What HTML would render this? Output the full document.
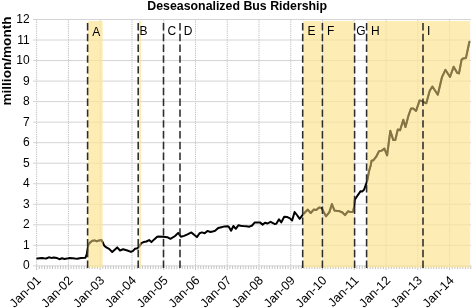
<!DOCTYPE html><html><head><meta charset="utf-8"><style>html,body{margin:0;padding:0;background:#fff;}svg{display:block;will-change:transform;}text{font-family:"Liberation Sans",sans-serif;}</style></head><body>
<svg width="472" height="308" viewBox="0 0 472 308">
<rect x="0" y="0" width="472" height="308" fill="#fff"/>
<line x1="36.65" y1="19.5" x2="36.65" y2="265.86" stroke="#bdbdbd" stroke-width="1" stroke-dasharray="1.2 1"/>
<line x1="68.41" y1="19.5" x2="68.41" y2="265.86" stroke="#bdbdbd" stroke-width="1" stroke-dasharray="1.2 1"/>
<line x1="100.18" y1="19.5" x2="100.18" y2="265.86" stroke="#bdbdbd" stroke-width="1" stroke-dasharray="1.2 1"/>
<line x1="131.94" y1="19.5" x2="131.94" y2="265.86" stroke="#bdbdbd" stroke-width="1" stroke-dasharray="1.2 1"/>
<line x1="163.71" y1="19.5" x2="163.71" y2="265.86" stroke="#bdbdbd" stroke-width="1" stroke-dasharray="1.2 1"/>
<line x1="195.47" y1="19.5" x2="195.47" y2="265.86" stroke="#bdbdbd" stroke-width="1" stroke-dasharray="1.2 1"/>
<line x1="227.24" y1="19.5" x2="227.24" y2="265.86" stroke="#bdbdbd" stroke-width="1" stroke-dasharray="1.2 1"/>
<line x1="259.0" y1="19.5" x2="259.0" y2="265.86" stroke="#bdbdbd" stroke-width="1" stroke-dasharray="1.2 1"/>
<line x1="290.77" y1="19.5" x2="290.77" y2="265.86" stroke="#bdbdbd" stroke-width="1" stroke-dasharray="1.2 1"/>
<line x1="322.53" y1="19.5" x2="322.53" y2="265.86" stroke="#bdbdbd" stroke-width="1" stroke-dasharray="1.2 1"/>
<line x1="354.3" y1="19.5" x2="354.3" y2="265.86" stroke="#bdbdbd" stroke-width="1" stroke-dasharray="1.2 1"/>
<line x1="386.06" y1="19.5" x2="386.06" y2="265.86" stroke="#bdbdbd" stroke-width="1" stroke-dasharray="1.2 1"/>
<line x1="417.83" y1="19.5" x2="417.83" y2="265.86" stroke="#bdbdbd" stroke-width="1" stroke-dasharray="1.2 1"/>
<line x1="449.59" y1="19.5" x2="449.59" y2="265.86" stroke="#bdbdbd" stroke-width="1" stroke-dasharray="1.2 1"/>
<line x1="33" y1="265.86" x2="471" y2="265.86" stroke="#d4d4d4" stroke-width="1"/>
<line x1="33" y1="245.33" x2="471" y2="245.33" stroke="#d4d4d4" stroke-width="1"/>
<line x1="33" y1="224.80" x2="471" y2="224.80" stroke="#d4d4d4" stroke-width="1"/>
<line x1="33" y1="204.27" x2="471" y2="204.27" stroke="#d4d4d4" stroke-width="1"/>
<line x1="33" y1="183.74" x2="471" y2="183.74" stroke="#d4d4d4" stroke-width="1"/>
<line x1="33" y1="163.21" x2="471" y2="163.21" stroke="#d4d4d4" stroke-width="1"/>
<line x1="33" y1="142.68" x2="471" y2="142.68" stroke="#d4d4d4" stroke-width="1"/>
<line x1="33" y1="122.15" x2="471" y2="122.15" stroke="#d4d4d4" stroke-width="1"/>
<line x1="33" y1="101.62" x2="471" y2="101.62" stroke="#d4d4d4" stroke-width="1"/>
<line x1="33" y1="81.09" x2="471" y2="81.09" stroke="#d4d4d4" stroke-width="1"/>
<line x1="33" y1="60.56" x2="471" y2="60.56" stroke="#d4d4d4" stroke-width="1"/>
<line x1="33" y1="40.03" x2="471" y2="40.03" stroke="#d4d4d4" stroke-width="1"/>
<line x1="33" y1="19.50" x2="471" y2="19.50" stroke="#d4d4d4" stroke-width="1"/>
<line x1="36.65" y1="265.86" x2="36.65" y2="270.06" stroke="#c4c4c4" stroke-width="1"/>
<line x1="39.30" y1="265.86" x2="39.30" y2="269.06" stroke="#c4c4c4" stroke-width="1"/>
<line x1="41.94" y1="265.86" x2="41.94" y2="269.06" stroke="#c4c4c4" stroke-width="1"/>
<line x1="44.59" y1="265.86" x2="44.59" y2="269.06" stroke="#c4c4c4" stroke-width="1"/>
<line x1="47.24" y1="265.86" x2="47.24" y2="269.06" stroke="#c4c4c4" stroke-width="1"/>
<line x1="49.89" y1="265.86" x2="49.89" y2="269.06" stroke="#c4c4c4" stroke-width="1"/>
<line x1="52.53" y1="265.86" x2="52.53" y2="269.06" stroke="#c4c4c4" stroke-width="1"/>
<line x1="55.18" y1="265.86" x2="55.18" y2="269.06" stroke="#c4c4c4" stroke-width="1"/>
<line x1="57.83" y1="265.86" x2="57.83" y2="269.06" stroke="#c4c4c4" stroke-width="1"/>
<line x1="60.47" y1="265.86" x2="60.47" y2="269.06" stroke="#c4c4c4" stroke-width="1"/>
<line x1="63.12" y1="265.86" x2="63.12" y2="269.06" stroke="#c4c4c4" stroke-width="1"/>
<line x1="65.77" y1="265.86" x2="65.77" y2="269.06" stroke="#c4c4c4" stroke-width="1"/>
<line x1="68.41" y1="265.86" x2="68.41" y2="270.06" stroke="#c4c4c4" stroke-width="1"/>
<line x1="71.06" y1="265.86" x2="71.06" y2="269.06" stroke="#c4c4c4" stroke-width="1"/>
<line x1="73.71" y1="265.86" x2="73.71" y2="269.06" stroke="#c4c4c4" stroke-width="1"/>
<line x1="76.36" y1="265.86" x2="76.36" y2="269.06" stroke="#c4c4c4" stroke-width="1"/>
<line x1="79.00" y1="265.86" x2="79.00" y2="269.06" stroke="#c4c4c4" stroke-width="1"/>
<line x1="81.65" y1="265.86" x2="81.65" y2="269.06" stroke="#c4c4c4" stroke-width="1"/>
<line x1="84.30" y1="265.86" x2="84.30" y2="269.06" stroke="#c4c4c4" stroke-width="1"/>
<line x1="86.94" y1="265.86" x2="86.94" y2="269.06" stroke="#c4c4c4" stroke-width="1"/>
<line x1="89.59" y1="265.86" x2="89.59" y2="269.06" stroke="#c4c4c4" stroke-width="1"/>
<line x1="92.24" y1="265.86" x2="92.24" y2="269.06" stroke="#c4c4c4" stroke-width="1"/>
<line x1="94.89" y1="265.86" x2="94.89" y2="269.06" stroke="#c4c4c4" stroke-width="1"/>
<line x1="97.53" y1="265.86" x2="97.53" y2="269.06" stroke="#c4c4c4" stroke-width="1"/>
<line x1="100.18" y1="265.86" x2="100.18" y2="270.06" stroke="#c4c4c4" stroke-width="1"/>
<line x1="102.83" y1="265.86" x2="102.83" y2="269.06" stroke="#c4c4c4" stroke-width="1"/>
<line x1="105.47" y1="265.86" x2="105.47" y2="269.06" stroke="#c4c4c4" stroke-width="1"/>
<line x1="108.12" y1="265.86" x2="108.12" y2="269.06" stroke="#c4c4c4" stroke-width="1"/>
<line x1="110.77" y1="265.86" x2="110.77" y2="269.06" stroke="#c4c4c4" stroke-width="1"/>
<line x1="113.42" y1="265.86" x2="113.42" y2="269.06" stroke="#c4c4c4" stroke-width="1"/>
<line x1="116.06" y1="265.86" x2="116.06" y2="269.06" stroke="#c4c4c4" stroke-width="1"/>
<line x1="118.71" y1="265.86" x2="118.71" y2="269.06" stroke="#c4c4c4" stroke-width="1"/>
<line x1="121.36" y1="265.86" x2="121.36" y2="269.06" stroke="#c4c4c4" stroke-width="1"/>
<line x1="124.00" y1="265.86" x2="124.00" y2="269.06" stroke="#c4c4c4" stroke-width="1"/>
<line x1="126.65" y1="265.86" x2="126.65" y2="269.06" stroke="#c4c4c4" stroke-width="1"/>
<line x1="129.30" y1="265.86" x2="129.30" y2="269.06" stroke="#c4c4c4" stroke-width="1"/>
<line x1="131.94" y1="265.86" x2="131.94" y2="270.06" stroke="#c4c4c4" stroke-width="1"/>
<line x1="134.59" y1="265.86" x2="134.59" y2="269.06" stroke="#c4c4c4" stroke-width="1"/>
<line x1="137.24" y1="265.86" x2="137.24" y2="269.06" stroke="#c4c4c4" stroke-width="1"/>
<line x1="139.89" y1="265.86" x2="139.89" y2="269.06" stroke="#c4c4c4" stroke-width="1"/>
<line x1="142.53" y1="265.86" x2="142.53" y2="269.06" stroke="#c4c4c4" stroke-width="1"/>
<line x1="145.18" y1="265.86" x2="145.18" y2="269.06" stroke="#c4c4c4" stroke-width="1"/>
<line x1="147.83" y1="265.86" x2="147.83" y2="269.06" stroke="#c4c4c4" stroke-width="1"/>
<line x1="150.47" y1="265.86" x2="150.47" y2="269.06" stroke="#c4c4c4" stroke-width="1"/>
<line x1="153.12" y1="265.86" x2="153.12" y2="269.06" stroke="#c4c4c4" stroke-width="1"/>
<line x1="155.77" y1="265.86" x2="155.77" y2="269.06" stroke="#c4c4c4" stroke-width="1"/>
<line x1="158.42" y1="265.86" x2="158.42" y2="269.06" stroke="#c4c4c4" stroke-width="1"/>
<line x1="161.06" y1="265.86" x2="161.06" y2="269.06" stroke="#c4c4c4" stroke-width="1"/>
<line x1="163.71" y1="265.86" x2="163.71" y2="270.06" stroke="#c4c4c4" stroke-width="1"/>
<line x1="166.36" y1="265.86" x2="166.36" y2="269.06" stroke="#c4c4c4" stroke-width="1"/>
<line x1="169.00" y1="265.86" x2="169.00" y2="269.06" stroke="#c4c4c4" stroke-width="1"/>
<line x1="171.65" y1="265.86" x2="171.65" y2="269.06" stroke="#c4c4c4" stroke-width="1"/>
<line x1="174.30" y1="265.86" x2="174.30" y2="269.06" stroke="#c4c4c4" stroke-width="1"/>
<line x1="176.95" y1="265.86" x2="176.95" y2="269.06" stroke="#c4c4c4" stroke-width="1"/>
<line x1="179.59" y1="265.86" x2="179.59" y2="269.06" stroke="#c4c4c4" stroke-width="1"/>
<line x1="182.24" y1="265.86" x2="182.24" y2="269.06" stroke="#c4c4c4" stroke-width="1"/>
<line x1="184.89" y1="265.86" x2="184.89" y2="269.06" stroke="#c4c4c4" stroke-width="1"/>
<line x1="187.53" y1="265.86" x2="187.53" y2="269.06" stroke="#c4c4c4" stroke-width="1"/>
<line x1="190.18" y1="265.86" x2="190.18" y2="269.06" stroke="#c4c4c4" stroke-width="1"/>
<line x1="192.83" y1="265.86" x2="192.83" y2="269.06" stroke="#c4c4c4" stroke-width="1"/>
<line x1="195.48" y1="265.86" x2="195.48" y2="270.06" stroke="#c4c4c4" stroke-width="1"/>
<line x1="198.12" y1="265.86" x2="198.12" y2="269.06" stroke="#c4c4c4" stroke-width="1"/>
<line x1="200.77" y1="265.86" x2="200.77" y2="269.06" stroke="#c4c4c4" stroke-width="1"/>
<line x1="203.42" y1="265.86" x2="203.42" y2="269.06" stroke="#c4c4c4" stroke-width="1"/>
<line x1="206.06" y1="265.86" x2="206.06" y2="269.06" stroke="#c4c4c4" stroke-width="1"/>
<line x1="208.71" y1="265.86" x2="208.71" y2="269.06" stroke="#c4c4c4" stroke-width="1"/>
<line x1="211.36" y1="265.86" x2="211.36" y2="269.06" stroke="#c4c4c4" stroke-width="1"/>
<line x1="214.00" y1="265.86" x2="214.00" y2="269.06" stroke="#c4c4c4" stroke-width="1"/>
<line x1="216.65" y1="265.86" x2="216.65" y2="269.06" stroke="#c4c4c4" stroke-width="1"/>
<line x1="219.30" y1="265.86" x2="219.30" y2="269.06" stroke="#c4c4c4" stroke-width="1"/>
<line x1="221.95" y1="265.86" x2="221.95" y2="269.06" stroke="#c4c4c4" stroke-width="1"/>
<line x1="224.59" y1="265.86" x2="224.59" y2="269.06" stroke="#c4c4c4" stroke-width="1"/>
<line x1="227.24" y1="265.86" x2="227.24" y2="270.06" stroke="#c4c4c4" stroke-width="1"/>
<line x1="229.89" y1="265.86" x2="229.89" y2="269.06" stroke="#c4c4c4" stroke-width="1"/>
<line x1="232.53" y1="265.86" x2="232.53" y2="269.06" stroke="#c4c4c4" stroke-width="1"/>
<line x1="235.18" y1="265.86" x2="235.18" y2="269.06" stroke="#c4c4c4" stroke-width="1"/>
<line x1="237.83" y1="265.86" x2="237.83" y2="269.06" stroke="#c4c4c4" stroke-width="1"/>
<line x1="240.48" y1="265.86" x2="240.48" y2="269.06" stroke="#c4c4c4" stroke-width="1"/>
<line x1="243.12" y1="265.86" x2="243.12" y2="269.06" stroke="#c4c4c4" stroke-width="1"/>
<line x1="245.77" y1="265.86" x2="245.77" y2="269.06" stroke="#c4c4c4" stroke-width="1"/>
<line x1="248.42" y1="265.86" x2="248.42" y2="269.06" stroke="#c4c4c4" stroke-width="1"/>
<line x1="251.06" y1="265.86" x2="251.06" y2="269.06" stroke="#c4c4c4" stroke-width="1"/>
<line x1="253.71" y1="265.86" x2="253.71" y2="269.06" stroke="#c4c4c4" stroke-width="1"/>
<line x1="256.36" y1="265.86" x2="256.36" y2="269.06" stroke="#c4c4c4" stroke-width="1"/>
<line x1="259.00" y1="265.86" x2="259.00" y2="270.06" stroke="#c4c4c4" stroke-width="1"/>
<line x1="261.65" y1="265.86" x2="261.65" y2="269.06" stroke="#c4c4c4" stroke-width="1"/>
<line x1="264.30" y1="265.86" x2="264.30" y2="269.06" stroke="#c4c4c4" stroke-width="1"/>
<line x1="266.95" y1="265.86" x2="266.95" y2="269.06" stroke="#c4c4c4" stroke-width="1"/>
<line x1="269.59" y1="265.86" x2="269.59" y2="269.06" stroke="#c4c4c4" stroke-width="1"/>
<line x1="272.24" y1="265.86" x2="272.24" y2="269.06" stroke="#c4c4c4" stroke-width="1"/>
<line x1="274.89" y1="265.86" x2="274.89" y2="269.06" stroke="#c4c4c4" stroke-width="1"/>
<line x1="277.53" y1="265.86" x2="277.53" y2="269.06" stroke="#c4c4c4" stroke-width="1"/>
<line x1="280.18" y1="265.86" x2="280.18" y2="269.06" stroke="#c4c4c4" stroke-width="1"/>
<line x1="282.83" y1="265.86" x2="282.83" y2="269.06" stroke="#c4c4c4" stroke-width="1"/>
<line x1="285.48" y1="265.86" x2="285.48" y2="269.06" stroke="#c4c4c4" stroke-width="1"/>
<line x1="288.12" y1="265.86" x2="288.12" y2="269.06" stroke="#c4c4c4" stroke-width="1"/>
<line x1="290.77" y1="265.86" x2="290.77" y2="270.06" stroke="#c4c4c4" stroke-width="1"/>
<line x1="293.42" y1="265.86" x2="293.42" y2="269.06" stroke="#c4c4c4" stroke-width="1"/>
<line x1="296.06" y1="265.86" x2="296.06" y2="269.06" stroke="#c4c4c4" stroke-width="1"/>
<line x1="298.71" y1="265.86" x2="298.71" y2="269.06" stroke="#c4c4c4" stroke-width="1"/>
<line x1="301.36" y1="265.86" x2="301.36" y2="269.06" stroke="#c4c4c4" stroke-width="1"/>
<line x1="304.01" y1="265.86" x2="304.01" y2="269.06" stroke="#c4c4c4" stroke-width="1"/>
<line x1="306.65" y1="265.86" x2="306.65" y2="269.06" stroke="#c4c4c4" stroke-width="1"/>
<line x1="309.30" y1="265.86" x2="309.30" y2="269.06" stroke="#c4c4c4" stroke-width="1"/>
<line x1="311.95" y1="265.86" x2="311.95" y2="269.06" stroke="#c4c4c4" stroke-width="1"/>
<line x1="314.59" y1="265.86" x2="314.59" y2="269.06" stroke="#c4c4c4" stroke-width="1"/>
<line x1="317.24" y1="265.86" x2="317.24" y2="269.06" stroke="#c4c4c4" stroke-width="1"/>
<line x1="319.89" y1="265.86" x2="319.89" y2="269.06" stroke="#c4c4c4" stroke-width="1"/>
<line x1="322.53" y1="265.86" x2="322.53" y2="270.06" stroke="#c4c4c4" stroke-width="1"/>
<line x1="325.18" y1="265.86" x2="325.18" y2="269.06" stroke="#c4c4c4" stroke-width="1"/>
<line x1="327.83" y1="265.86" x2="327.83" y2="269.06" stroke="#c4c4c4" stroke-width="1"/>
<line x1="330.48" y1="265.86" x2="330.48" y2="269.06" stroke="#c4c4c4" stroke-width="1"/>
<line x1="333.12" y1="265.86" x2="333.12" y2="269.06" stroke="#c4c4c4" stroke-width="1"/>
<line x1="335.77" y1="265.86" x2="335.77" y2="269.06" stroke="#c4c4c4" stroke-width="1"/>
<line x1="338.42" y1="265.86" x2="338.42" y2="269.06" stroke="#c4c4c4" stroke-width="1"/>
<line x1="341.06" y1="265.86" x2="341.06" y2="269.06" stroke="#c4c4c4" stroke-width="1"/>
<line x1="343.71" y1="265.86" x2="343.71" y2="269.06" stroke="#c4c4c4" stroke-width="1"/>
<line x1="346.36" y1="265.86" x2="346.36" y2="269.06" stroke="#c4c4c4" stroke-width="1"/>
<line x1="349.01" y1="265.86" x2="349.01" y2="269.06" stroke="#c4c4c4" stroke-width="1"/>
<line x1="351.65" y1="265.86" x2="351.65" y2="269.06" stroke="#c4c4c4" stroke-width="1"/>
<line x1="354.30" y1="265.86" x2="354.30" y2="270.06" stroke="#c4c4c4" stroke-width="1"/>
<line x1="356.95" y1="265.86" x2="356.95" y2="269.06" stroke="#c4c4c4" stroke-width="1"/>
<line x1="359.59" y1="265.86" x2="359.59" y2="269.06" stroke="#c4c4c4" stroke-width="1"/>
<line x1="362.24" y1="265.86" x2="362.24" y2="269.06" stroke="#c4c4c4" stroke-width="1"/>
<line x1="364.89" y1="265.86" x2="364.89" y2="269.06" stroke="#c4c4c4" stroke-width="1"/>
<line x1="367.54" y1="265.86" x2="367.54" y2="269.06" stroke="#c4c4c4" stroke-width="1"/>
<line x1="370.18" y1="265.86" x2="370.18" y2="269.06" stroke="#c4c4c4" stroke-width="1"/>
<line x1="372.83" y1="265.86" x2="372.83" y2="269.06" stroke="#c4c4c4" stroke-width="1"/>
<line x1="375.48" y1="265.86" x2="375.48" y2="269.06" stroke="#c4c4c4" stroke-width="1"/>
<line x1="378.12" y1="265.86" x2="378.12" y2="269.06" stroke="#c4c4c4" stroke-width="1"/>
<line x1="380.77" y1="265.86" x2="380.77" y2="269.06" stroke="#c4c4c4" stroke-width="1"/>
<line x1="383.42" y1="265.86" x2="383.42" y2="269.06" stroke="#c4c4c4" stroke-width="1"/>
<line x1="386.06" y1="265.86" x2="386.06" y2="270.06" stroke="#c4c4c4" stroke-width="1"/>
<line x1="388.71" y1="265.86" x2="388.71" y2="269.06" stroke="#c4c4c4" stroke-width="1"/>
<line x1="391.36" y1="265.86" x2="391.36" y2="269.06" stroke="#c4c4c4" stroke-width="1"/>
<line x1="394.01" y1="265.86" x2="394.01" y2="269.06" stroke="#c4c4c4" stroke-width="1"/>
<line x1="396.65" y1="265.86" x2="396.65" y2="269.06" stroke="#c4c4c4" stroke-width="1"/>
<line x1="399.30" y1="265.86" x2="399.30" y2="269.06" stroke="#c4c4c4" stroke-width="1"/>
<line x1="401.95" y1="265.86" x2="401.95" y2="269.06" stroke="#c4c4c4" stroke-width="1"/>
<line x1="404.59" y1="265.86" x2="404.59" y2="269.06" stroke="#c4c4c4" stroke-width="1"/>
<line x1="407.24" y1="265.86" x2="407.24" y2="269.06" stroke="#c4c4c4" stroke-width="1"/>
<line x1="409.89" y1="265.86" x2="409.89" y2="269.06" stroke="#c4c4c4" stroke-width="1"/>
<line x1="412.54" y1="265.86" x2="412.54" y2="269.06" stroke="#c4c4c4" stroke-width="1"/>
<line x1="415.18" y1="265.86" x2="415.18" y2="269.06" stroke="#c4c4c4" stroke-width="1"/>
<line x1="417.83" y1="265.86" x2="417.83" y2="270.06" stroke="#c4c4c4" stroke-width="1"/>
<line x1="420.48" y1="265.86" x2="420.48" y2="269.06" stroke="#c4c4c4" stroke-width="1"/>
<line x1="423.12" y1="265.86" x2="423.12" y2="269.06" stroke="#c4c4c4" stroke-width="1"/>
<line x1="425.77" y1="265.86" x2="425.77" y2="269.06" stroke="#c4c4c4" stroke-width="1"/>
<line x1="428.42" y1="265.86" x2="428.42" y2="269.06" stroke="#c4c4c4" stroke-width="1"/>
<line x1="431.07" y1="265.86" x2="431.07" y2="269.06" stroke="#c4c4c4" stroke-width="1"/>
<line x1="433.71" y1="265.86" x2="433.71" y2="269.06" stroke="#c4c4c4" stroke-width="1"/>
<line x1="436.36" y1="265.86" x2="436.36" y2="269.06" stroke="#c4c4c4" stroke-width="1"/>
<line x1="439.01" y1="265.86" x2="439.01" y2="269.06" stroke="#c4c4c4" stroke-width="1"/>
<line x1="441.65" y1="265.86" x2="441.65" y2="269.06" stroke="#c4c4c4" stroke-width="1"/>
<line x1="444.30" y1="265.86" x2="444.30" y2="269.06" stroke="#c4c4c4" stroke-width="1"/>
<line x1="446.95" y1="265.86" x2="446.95" y2="269.06" stroke="#c4c4c4" stroke-width="1"/>
<line x1="449.59" y1="265.86" x2="449.59" y2="270.06" stroke="#c4c4c4" stroke-width="1"/>
<line x1="452.24" y1="265.86" x2="452.24" y2="269.06" stroke="#c4c4c4" stroke-width="1"/>
<line x1="454.89" y1="265.86" x2="454.89" y2="269.06" stroke="#c4c4c4" stroke-width="1"/>
<line x1="457.54" y1="265.86" x2="457.54" y2="269.06" stroke="#c4c4c4" stroke-width="1"/>
<line x1="460.18" y1="265.86" x2="460.18" y2="269.06" stroke="#c4c4c4" stroke-width="1"/>
<line x1="462.83" y1="265.86" x2="462.83" y2="269.06" stroke="#c4c4c4" stroke-width="1"/>
<line x1="465.48" y1="265.86" x2="465.48" y2="269.06" stroke="#c4c4c4" stroke-width="1"/>
<line x1="468.12" y1="265.86" x2="468.12" y2="269.06" stroke="#c4c4c4" stroke-width="1"/>
<line x1="470.77" y1="265.86" x2="470.77" y2="269.06" stroke="#c4c4c4" stroke-width="1"/>
<path d="M37.3,258.5 L39.5,258.2 L41.6,257.9 L44,258.3 L46.1,258.5 L48.9,257.3 L51.2,257.9 L54,257.4 L56.6,257.9 L59.4,259.2 L62,258.2 L64.5,259.0 L67,258.6 L69.5,258.0 L72.7,258.3 L75,258.6 L77.2,258.7 L81,257.9 L85.5,257.7 L86.8,254 L88.4,244.5 L90,242.6 L92.3,240.8 L94.5,240.4 L96.8,241.3 L99.1,240.4 L101.4,239.9 L102.7,242.2 L104.1,245.4 L106.3,247.4 L109.1,248.9 L112.2,252 L117.2,247.4 L120,250.5 L123.1,249.3 L127.4,250.5 L130.9,251.9 L133.1,250.9 L135.1,248.7 L137.4,248.3 L139.7,245.6 L141.3,243.2 L143.6,242.1 L146.4,241.5 L149.1,240.1 L151.4,242.1 L154.2,239.4 L156.9,237 L158.3,236.4 L163,236.8 L167.3,237.2 L170.4,238.8 L175.1,236 L178.2,232.9 L180.9,236.8 L184,235.9 L187.5,234.4 L191.4,232.4 L194.1,234.8 L196.9,237.1 L199.6,233.2 L201.9,232.4 L204.7,233.2 L207.4,230.9 L210.5,232 L212.5,231.6 L215.1,230.7 L218.2,228 L221.4,227.2 L224.5,226.4 L227.6,226.2 L229.1,227.2 L231.1,230.7 L233.4,226 L235.8,228.8 L238.5,225.2 L240.5,225.8 L243.1,226.1 L246.2,226.3 L249.4,226.7 L252.1,225.5 L254.8,222.4 L257.1,222.4 L259.9,222.4 L262.6,224.6 L265,222.7 L267.6,223.5 L270.5,221.8 L274.5,223.9 L276.3,223.7 L279,219.3 L281.3,222.4 L284.2,216.7 L287.4,217.1 L290,218.4 L292.1,220.5 L294.6,212 L297,215 L299.7,218.8 L302.3,215.3 L304.8,212.5 L307.7,209.6 L310.7,213 L313.7,209.6 L316.2,210 L319.2,207.4 L321.7,207.9 L323,210.8 L326,216.3 L329.4,212.1 L331.9,204 L334.4,210.4 L336.5,210.8 L339.9,211.3 L342.5,212.5 L345,215.1 L348,211.3 L350.5,212.1 L353,211.7 L354.3,206.2 L354.8,199.8 L357.7,195.3 L360.6,191.2 L362.4,191.4 L364.1,189.6 L365.9,184.7 L367.3,180.3 L369.1,170.9 L370.8,164.9 L371.5,160.8 L373.5,160.2 L376.2,156.7 L379,151.3 L381.7,150.6 L384.4,148.6 L387.1,155.4 L390.3,130.8 L393.3,140.1 L395.3,140.1 L397.8,129.4 L400.1,130.3 L403.3,119.8 L405.5,127.1 L408.3,116.2 L411,108.5 L413.3,108.5 L416.1,110.9 L419.6,100.4 L421.5,101.0 L423.3,102.0 L426.3,103.2 L429.7,90.7 L432.4,86.5 L437.8,94.7 L442,77.1 L445.4,69.8 L450,77 L453.6,66.8 L457.3,73 L459,73.4 L461.6,59.6 L463,58.6 L465.9,58.1 L469.4,41.7" fill="none" stroke="#000" stroke-width="2" stroke-linejoin="round" stroke-linecap="round"/>
<rect x="87.9" y="21.0" width="14.80" height="246.50" fill="rgb(253.6, 228.6, 152.2)" fill-opacity="0.72"/>
<rect x="138.9" y="21.0" width="2.20" height="246.50" fill="rgb(253.6, 228.6, 152.2)" fill-opacity="0.72"/>
<rect x="303.2" y="21.0" width="17.90" height="246.50" fill="rgb(253.6, 228.6, 152.2)" fill-opacity="0.72"/>
<rect x="322.9" y="21.0" width="30.70" height="246.50" fill="rgb(253.6, 228.6, 152.2)" fill-opacity="0.72"/>
<rect x="367.2" y="21.0" width="102.90" height="246.50" fill="rgb(253.6, 228.6, 152.2)" fill-opacity="0.72"/>
<defs><clipPath id="sc"><rect x="87.9" y="21.0" width="14.80" height="246.50"/><rect x="138.9" y="21.0" width="2.20" height="246.50"/><rect x="303.2" y="21.0" width="17.90" height="246.50"/><rect x="322.9" y="21.0" width="30.70" height="246.50"/><rect x="367.2" y="21.0" width="102.90" height="246.50"/></clipPath></defs>
<path d="M37.3,258.5 L39.5,258.2 L41.6,257.9 L44,258.3 L46.1,258.5 L48.9,257.3 L51.2,257.9 L54,257.4 L56.6,257.9 L59.4,259.2 L62,258.2 L64.5,259.0 L67,258.6 L69.5,258.0 L72.7,258.3 L75,258.6 L77.2,258.7 L81,257.9 L85.5,257.7 L86.8,254 L88.4,244.5 L90,242.6 L92.3,240.8 L94.5,240.4 L96.8,241.3 L99.1,240.4 L101.4,239.9 L102.7,242.2 L104.1,245.4 L106.3,247.4 L109.1,248.9 L112.2,252 L117.2,247.4 L120,250.5 L123.1,249.3 L127.4,250.5 L130.9,251.9 L133.1,250.9 L135.1,248.7 L137.4,248.3 L139.7,245.6 L141.3,243.2 L143.6,242.1 L146.4,241.5 L149.1,240.1 L151.4,242.1 L154.2,239.4 L156.9,237 L158.3,236.4 L163,236.8 L167.3,237.2 L170.4,238.8 L175.1,236 L178.2,232.9 L180.9,236.8 L184,235.9 L187.5,234.4 L191.4,232.4 L194.1,234.8 L196.9,237.1 L199.6,233.2 L201.9,232.4 L204.7,233.2 L207.4,230.9 L210.5,232 L212.5,231.6 L215.1,230.7 L218.2,228 L221.4,227.2 L224.5,226.4 L227.6,226.2 L229.1,227.2 L231.1,230.7 L233.4,226 L235.8,228.8 L238.5,225.2 L240.5,225.8 L243.1,226.1 L246.2,226.3 L249.4,226.7 L252.1,225.5 L254.8,222.4 L257.1,222.4 L259.9,222.4 L262.6,224.6 L265,222.7 L267.6,223.5 L270.5,221.8 L274.5,223.9 L276.3,223.7 L279,219.3 L281.3,222.4 L284.2,216.7 L287.4,217.1 L290,218.4 L292.1,220.5 L294.6,212 L297,215 L299.7,218.8 L302.3,215.3 L304.8,212.5 L307.7,209.6 L310.7,213 L313.7,209.6 L316.2,210 L319.2,207.4 L321.7,207.9 L323,210.8 L326,216.3 L329.4,212.1 L331.9,204 L334.4,210.4 L336.5,210.8 L339.9,211.3 L342.5,212.5 L345,215.1 L348,211.3 L350.5,212.1 L353,211.7 L354.3,206.2 L354.8,199.8 L357.7,195.3 L360.6,191.2 L362.4,191.4 L364.1,189.6 L365.9,184.7 L367.3,180.3 L369.1,170.9 L370.8,164.9 L371.5,160.8 L373.5,160.2 L376.2,156.7 L379,151.3 L381.7,150.6 L384.4,148.6 L387.1,155.4 L390.3,130.8 L393.3,140.1 L395.3,140.1 L397.8,129.4 L400.1,130.3 L403.3,119.8 L405.5,127.1 L408.3,116.2 L411,108.5 L413.3,108.5 L416.1,110.9 L419.6,100.4 L421.5,101.0 L423.3,102.0 L426.3,103.2 L429.7,90.7 L432.4,86.5 L437.8,94.7 L442,77.1 L445.4,69.8 L450,77 L453.6,66.8 L457.3,73 L459,73.4 L461.6,59.6 L463,58.6 L465.9,58.1 L469.4,41.7" fill="none" stroke="rgb(133,116,68)" stroke-width="2" stroke-linejoin="round" stroke-linecap="round" clip-path="url(#sc)"/>
<line x1="87.6" y1="23.0" x2="87.6" y2="268.3" stroke="#2c2c2c" stroke-width="1.55" stroke-dasharray="7.4 3.4"/>
<line x1="138.2" y1="23.0" x2="138.2" y2="268.3" stroke="#2c2c2c" stroke-width="1.55" stroke-dasharray="7.4 3.4"/>
<line x1="163.5" y1="23.0" x2="163.5" y2="268.3" stroke="#2c2c2c" stroke-width="1.55" stroke-dasharray="7.4 3.4"/>
<line x1="180.0" y1="23.0" x2="180.0" y2="268.3" stroke="#2c2c2c" stroke-width="1.55" stroke-dasharray="7.4 3.4"/>
<line x1="302.7" y1="23.0" x2="302.7" y2="268.3" stroke="#2c2c2c" stroke-width="1.55" stroke-dasharray="7.4 3.4"/>
<line x1="322.4" y1="23.0" x2="322.4" y2="268.3" stroke="#2c2c2c" stroke-width="1.55" stroke-dasharray="7.4 3.4"/>
<line x1="354.6" y1="23.0" x2="354.6" y2="268.3" stroke="#2c2c2c" stroke-width="1.55" stroke-dasharray="7.4 3.4"/>
<line x1="366.6" y1="23.0" x2="366.6" y2="268.3" stroke="#2c2c2c" stroke-width="1.55" stroke-dasharray="7.4 3.4"/>
<line x1="423.0" y1="23.0" x2="423.0" y2="268.3" stroke="#2c2c2c" stroke-width="1.55" stroke-dasharray="7.4 3.4"/>
<text x="92.2" y="35.8" font-size="12" fill="#000">A</text>
<text x="139.4" y="34.8" font-size="12" fill="#000">B</text>
<text x="167.6" y="34.8" font-size="12" fill="#000">C</text>
<text x="183.7" y="34.8" font-size="12" fill="#000">D</text>
<text x="307.4" y="34.8" font-size="12" fill="#000">E</text>
<text x="326.9" y="34.8" font-size="12" fill="#000">F</text>
<text x="356.3" y="34.8" font-size="12" fill="#000">G</text>
<text x="370.9" y="34.8" font-size="12" fill="#000">H</text>
<text x="426.9" y="34.8" font-size="12" fill="#000">I</text>
<text x="29.6" y="269.46" font-size="12" text-anchor="end" fill="#000">0</text>
<text x="29.6" y="248.93" font-size="12" text-anchor="end" fill="#000">1</text>
<text x="29.6" y="228.40" font-size="12" text-anchor="end" fill="#000">2</text>
<text x="29.6" y="207.87" font-size="12" text-anchor="end" fill="#000">3</text>
<text x="29.6" y="187.34" font-size="12" text-anchor="end" fill="#000">4</text>
<text x="29.6" y="166.81" font-size="12" text-anchor="end" fill="#000">5</text>
<text x="29.6" y="146.28" font-size="12" text-anchor="end" fill="#000">6</text>
<text x="29.6" y="125.75" font-size="12" text-anchor="end" fill="#000">7</text>
<text x="29.6" y="105.22" font-size="12" text-anchor="end" fill="#000">8</text>
<text x="29.6" y="84.69" font-size="12" text-anchor="end" fill="#000">9</text>
<text x="29.6" y="64.16" font-size="12" text-anchor="end" fill="#000">10</text>
<text x="29.6" y="43.63" font-size="12" text-anchor="end" fill="#000">11</text>
<text x="29.6" y="23.10" font-size="12" text-anchor="end" fill="#000">12</text>
<text transform="translate(41.65,281.1) rotate(-45)" font-size="12.5" text-anchor="end" fill="#000">Jan-01</text>
<text transform="translate(73.41,281.1) rotate(-45)" font-size="12.5" text-anchor="end" fill="#000">Jan-02</text>
<text transform="translate(105.18,281.1) rotate(-45)" font-size="12.5" text-anchor="end" fill="#000">Jan-03</text>
<text transform="translate(136.94,281.1) rotate(-45)" font-size="12.5" text-anchor="end" fill="#000">Jan-04</text>
<text transform="translate(168.71,281.1) rotate(-45)" font-size="12.5" text-anchor="end" fill="#000">Jan-05</text>
<text transform="translate(200.47,281.1) rotate(-45)" font-size="12.5" text-anchor="end" fill="#000">Jan-06</text>
<text transform="translate(232.24,281.1) rotate(-45)" font-size="12.5" text-anchor="end" fill="#000">Jan-07</text>
<text transform="translate(264.00,281.1) rotate(-45)" font-size="12.5" text-anchor="end" fill="#000">Jan-08</text>
<text transform="translate(295.77,281.1) rotate(-45)" font-size="12.5" text-anchor="end" fill="#000">Jan-09</text>
<text transform="translate(327.53,281.1) rotate(-45)" font-size="12.5" text-anchor="end" fill="#000">Jan-10</text>
<text transform="translate(359.30,281.1) rotate(-45)" font-size="12.5" text-anchor="end" fill="#000">Jan-11</text>
<text transform="translate(391.06,281.1) rotate(-45)" font-size="12.5" text-anchor="end" fill="#000">Jan-12</text>
<text transform="translate(422.83,281.1) rotate(-45)" font-size="12.5" text-anchor="end" fill="#000">Jan-13</text>
<text transform="translate(454.59,281.1) rotate(-45)" font-size="12.5" text-anchor="end" fill="#000">Jan-14</text>
<text x="237.2" y="10.4" font-size="12.35" font-weight="bold" text-anchor="middle" fill="#000">Deseasonalized Bus Ridership</text>
<text transform="translate(11,61) rotate(-90)" font-size="13.6" font-weight="bold" text-anchor="middle" fill="#000">million/month</text>
</svg></body></html>
